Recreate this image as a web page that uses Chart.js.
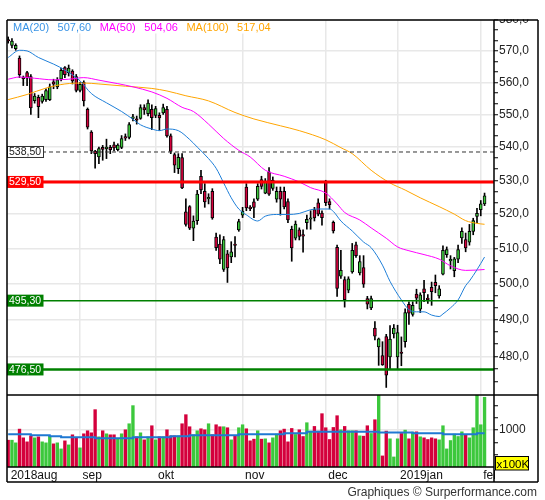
<!DOCTYPE html>
<html>
<head>
<meta charset="utf-8">
<title>Cours journalier</title>
<script src="https://cdn.jsdelivr.net/npm/chart.js@4.4.1/dist/chart.umd.min.js"></script>
<style>
    html, body { margin: 0; padding: 0; background: #ffffff; }
    #box { position: relative; width: 545px; height: 500px; }
</style>
</head>
<body>
<div id="box"><canvas id="cours"></canvas></div>
<script>
// daily candles, one per trading day (first one = 2018aug, last one = 1st feb day)
const opens = [573.4, 571.8, 570.7, 567.7, 561.6, 563.1, 561.8, 554.3, 555.3, 554.0,
    554.6, 554.6, 560.2, 558.6, 561.0, 564.7, 563.1, 563.6, 561.8, 557.5,
    560.0, 551.6, 544.6, 538.8, 537.0, 539.9, 539.5, 539.9, 540.7, 539.2,
    539.9, 543.0, 542.9, 548.8, 548.5, 548.8, 552.1, 550.2, 551.6, 549.7,
    549.7, 550.5, 551.6, 543.4, 537.7, 533.5, 536.8, 520.7, 522.2, 515.9,
    518.1, 531.2, 526.7, 524.5, 526.7, 513.3, 511.3, 504.1, 508.5, 507.6,
    511.1, 515.4, 519.7, 528.0, 521.8, 523.6, 524.4, 530.2, 526.2, 532.5,
    527.6, 524.4, 526.7, 526.7, 523.7, 515.6, 513.0, 515.4, 513.8, 517.5,
    518.5, 521.3, 523.3, 520.3, 529.5, 523.7, 517.6, 510.4, 502.2, 501.2,
    498.2, 503.4, 511.1, 503.1, 504.6, 495.9, 493.3, 487.7, 482.6, 480.2,
    485.4, 479.9, 486.1, 479.9, 481.0, 484.0, 494.3, 491.5, 497.1, 492.9,
    498.6, 495.8, 499.0, 500.4, 496.6, 502.7, 508.3, 506.5, 503.7, 507.0,
    513.1, 512.6, 511.9, 515.0, 519.3, 521.3, 523.0]
const highs = [574.5, 574.0, 572.3, 568.4, 562.0, 563.5, 562.5, 556.5, 556.0, 556.3,
    558.0, 559.5, 561.0, 561.5, 564.5, 565.0, 565.5, 564.0, 562.5, 560.0,
    560.5, 552.0, 545.0, 539.0, 540.0, 540.5, 542.4, 540.5, 541.5, 541.0,
    543.5, 544.0, 547.5, 550.0, 549.5, 553.0, 553.0, 554.5, 553.0, 552.5,
    550.5, 553.2, 552.5, 544.0, 538.2, 538.0, 538.0, 524.5, 522.5, 519.5,
    527.0, 533.0, 529.0, 526.0, 527.5, 514.5, 514.0, 513.5, 509.5, 512.0,
    513.5, 518.5, 522.0, 529.0, 522.5, 524.5, 529.0, 531.2, 530.5, 533.8,
    531.0, 528.0, 528.0, 528.0, 524.5, 516.5, 518.0, 516.0, 515.4, 519.7,
    521.0, 522.0, 524.5, 521.0, 530.0, 524.5, 518.0, 511.0, 509.5, 502.0,
    502.0, 511.5, 511.9, 508.0, 508.0, 496.5, 496.6, 489.5, 485.0, 484.0,
    486.0, 488.4, 488.7, 488.5, 485.3, 493.0, 495.0, 495.0, 498.5, 497.5,
    501.0, 497.0, 500.5, 502.5, 499.5, 510.8, 510.5, 508.0, 507.5, 511.0,
    516.0, 514.5, 517.0, 518.8, 521.7, 524.0, 526.2]
const lows = [572.5, 571.0, 570.2, 561.5, 559.0, 559.0, 550.0, 553.5, 549.0, 553.5,
    554.0, 554.3, 558.0, 558.0, 560.5, 561.5, 562.0, 559.5, 557.0, 557.0,
    552.6, 545.5, 538.0, 533.6, 535.0, 536.0, 536.5, 538.0, 538.8, 538.8,
    539.5, 542.0, 542.5, 548.0, 547.0, 548.5, 550.0, 549.5, 545.3, 549.0,
    545.1, 550.0, 543.0, 538.0, 532.3, 532.0, 527.5, 516.5, 515.5, 512.3,
    517.0, 526.0, 522.0, 523.0, 518.5, 509.5, 505.7, 503.5, 500.4, 506.0,
    507.6, 515.0, 519.0, 521.0, 521.0, 519.0, 524.0, 527.4, 526.0, 525.5,
    527.0, 523.5, 519.7, 521.5, 517.5, 506.4, 512.5, 512.5, 509.0, 515.6,
    515.6, 518.0, 519.5, 516.8, 522.5, 521.5, 514.5, 496.5, 501.5, 493.5,
    497.5, 503.0, 507.5, 502.5, 499.0, 493.0, 492.8, 484.5, 477.6, 477.6,
    471.7, 476.5, 485.0, 476.5, 477.5, 482.5, 488.7, 491.0, 494.5, 492.0,
    495.0, 494.5, 494.0, 497.5, 496.0, 502.5, 507.5, 504.2, 502.0, 506.0,
    511.5, 509.1, 511.0, 514.0, 517.5, 519.5, 522.5]
const closes = [573.2, 573.2, 571.8, 562.4, 561.2, 561.3, 552.0, 555.7, 552.4, 555.7,
    557.4, 558.6, 559.4, 560.8, 563.8, 562.4, 564.5, 560.5, 557.5, 559.4,
    554.2, 546.1, 538.8, 538.0, 539.5, 539.3, 539.7, 539.2, 539.7, 540.6,
    542.6, 542.7, 546.9, 549.2, 548.2, 552.1, 551.4, 553.5, 549.0, 551.8,
    548.9, 552.1, 543.4, 538.7, 534.5, 536.9, 527.7, 517.0, 515.9, 518.0,
    525.9, 527.1, 523.6, 524.9, 518.9, 510.3, 507.0, 512.6, 504.5, 509.1,
    510.9, 517.8, 520.9, 521.8, 521.6, 522.0, 528.2, 528.2, 529.5, 525.9,
    530.0, 526.7, 524.4, 522.1, 518.3, 510.2, 517.1, 513.5, 513.6, 518.5,
    518.7, 518.9, 520.0, 519.0, 523.4, 522.8, 515.1, 498.7, 503.8, 495.6,
    501.4, 509.5, 508.0, 506.3, 499.9, 494.3, 495.9, 485.5, 484.8, 477.7,
    475.0, 484.7, 487.7, 486.5, 480.8, 492.0, 491.8, 494.0, 496.0, 496.9,
    497.5, 495.6, 497.8, 499.5, 498.6, 509.5, 509.7, 506.7, 507.1, 509.7,
    515.0, 510.2, 515.0, 518.1, 520.2, 523.0, 525.4]
// volume in units of 100K
const volumes = [726, 726, 654, 1026, 790, 681, 844, 790, 817, 681,
    654, 835, 627, 654, 490, 708, 599, 872, 799, 518,
    899, 981, 926, 1553, 817, 981, 899, 872, 872, 772,
    899, 1008, 1171, 1662, 817, 926, 735, 817, 1117, 735,
    817, 817, 1008, 844, 844, 844, 1171, 1417, 1090, 872,
    981, 1035, 1008, 1171, 872, 1144, 1090, 1090, 1063, 735,
    844, 1063, 1144, 1035, 708,
    754, 981, 754, 763, 654, 790, 890, 981, 1026, 681,
    1044, 881, 1008, 826, 1199, 972, 1099, 972, 1444, 1063,
    745, 1071, 1389, 1008, 1099, 981, 981, 981, 844, 835,
    1117, 908, 1280, 1950, 300, 972, 763, 272, 763, 908,
    999, 763, 944, 953, 817, 790, 745, 790, 763, 735,
    1117, 490, 717, 890, 826, 953, 863, 790, 1063, 1950,
    1144, 1889]

const monthStarts = [0, 19, 39, 62, 84, 103, 125]
const monthLabels = ['2018aug', 'sep', 'okt', 'nov', 'dec', '2019jan', 'feb']

// moving averages read at some of the days
const ma20Days = [0, 3, 5, 8, 12, 15, 19, 22, 26, 30, 33, 35, 38, 40, 42, 45, 48, 50, 53, 55,
    57, 59, 61, 63, 66, 68, 71, 74, 77, 80, 82, 85, 86, 88, 91, 94, 96, 99, 101, 104,
    106, 108, 110, 112, 114, 115, 117, 119, 121, 122, 124, 126]
const ma20 = [567.9, 570.2, 570.0, 567.9, 565.8, 563.9, 560.5, 556.5, 553.6, 550.9,
    548.5, 546.8, 545.5, 545.0, 545.5, 545.0, 542.3, 540.0, 536.5, 533.6,
    529.2, 524.8, 521.5, 519.8, 518.0, 519.4, 519.9, 519.9, 520.2, 521.3,
    521.5, 521.5, 520.8, 518.0, 515.1, 511.9, 510.3, 505.3, 500.7, 495.5,
    492.8, 492.2, 492.2, 491.3, 490.9, 491.6, 493.3, 495.5, 499.5, 500.8,
    504.0, 507.60]
const ma50Days = [0, 3, 7, 12, 16, 20, 24, 29, 33, 38, 42, 46, 49, 53, 57, 61, 64, 68, 73, 77,
    80, 84, 87, 89, 93, 96, 100, 103, 106, 110, 114, 117, 121, 124, 126]
const ma50 = [561.0, 561.7, 561.3, 560.8, 561.0, 561.5, 560.7, 559.6, 558.6, 557.0,
    555.0, 552.2, 550.9, 547.0, 542.6, 539.0, 537.0, 533.0, 531.2, 529.5,
    527.8, 526.2, 523.0, 520.5, 518.3, 516.0, 513.0, 510.5, 509.4, 508.3,
    507.0, 505.1, 503.8, 503.9, 504.06]
const ma100Days = [0, 5, 10, 15, 20, 24, 31, 38, 42, 47, 53, 60, 65, 72, 77, 84, 88, 91, 96, 101,
    105, 109, 114, 118, 121, 124, 126]
const ma100 = [554.6, 556.2, 558.2, 559.5, 559.8, 559.5, 558.8, 558.1, 557.3, 555.8,
    554.2, 550.6, 548.6, 546.5, 545.0, 542.2, 539.8, 538.0, 533.0, 529.2,
    527.1, 524.8, 522.2, 520.0, 518.1, 517.3, 517.04]
const volMaDays = [0, 6, 11, 14, 23, 33, 43, 48, 61, 73, 79, 98, 107, 115, 124, 126]
const volMa = [890, 863, 835, 808, 781, 808, 835, 863, 890, 917, 953, 935, 917, 890, 917, 917]

const levels = [538.5, 529.5, 495.3, 476.5]
const priceMajor = [480, 490, 500, 510, 520, 530, 540, 550, 560, 570, 580]
const volMajor = 1000

const upColor = '#3cc83c'
const downColor = '#d4003c'
const gridColor = '#e8e8e8'
const noColor = 'rgba(0,0,0,0)'
const levelStyles = [
    {line: '#333333', width: 1, dash: [4, 3], fill: '#ffffff', text: '#222222', border: true},
    {line: '#ff0000', width: 3, dash: [], fill: '#ff0000', text: '#ffffff', border: false},
    {line: '#008000', width: 1.5, dash: [], fill: '#008000', text: '#ffffff', border: false},
    {line: '#008000', width: 2.5, dash: [], fill: '#008000', text: '#ffffff', border: false}
]
const maColors = ['#1f7fd8', '#ff00ff', '#ffa500']

Chart.defaults.font.family = "'Liberation Sans', Arial, sans-serif"
Chart.defaults.font.size = 12
Chart.defaults.color = '#222'

function decimal(v, digits) {
    return v.toFixed(digits).replace('.', ',')
}

function is_major(v, step) {
    return Math.abs(v - Math.round(v / step) * step) < 0.01
}

function candle_color(i) {
    return closes[i] >= opens[i] ? upColor : downColor
}

function as_points(xs, ys) {
    return xs.map((d, k) => ({x: d, y: ys[k]}))
}

// a tick mark every third of the labelled step
const priceTicks = []
priceMajor.forEach((m, k) => {
    if (k === 0) priceTicks.push(m - 20 / 3, m - 10 / 3)
    priceTicks.push(m)
    if (k < priceMajor.length - 1) priceTicks.push(m + 10 / 3, m + 20 / 3)
})
const volTicks = [1, 2, 3, 4, 5].map(k => k * volMajor / 3)

const days = opens.map((o, i) => i)
const bodies = days.map(i => ({x: i, y: [opens[i], closes[i]]}))
const wicks = days.map(i => ({x: i, y: [lows[i], highs[i]]}))
const vols = days.map(i => ({x: i, y: volumes[i]}))

const decor = {
    id: 'decor',
    afterDatasetsDraw(chart) {
        const c = chart.ctx
        const a = chart.chartArea
        const y = chart.scales.y
        c.save()
        levels.forEach((lv, k) => {
            const st = levelStyles[k]
            const py = y.getPixelForValue(lv)
            c.strokeStyle = st.line
            c.lineWidth = st.width
            c.setLineDash(st.dash)
            c.beginPath()
            c.moveTo(a.left, py)
            c.lineTo(a.right, py)
            c.stroke()
            c.setLineDash([])
            c.fillStyle = st.fill
            c.fillRect(a.left, py - 6, 36.5, 12)
            if (st.border) {
                c.strokeStyle = st.line
                c.lineWidth = 1
                c.strokeRect(a.left + 0.5, py - 5.5, 36, 11)
            }
            c.fillStyle = st.text
            c.font = "10.5px 'Liberation Sans'"
            c.textBaseline = 'middle'
            c.textAlign = 'left'
            c.fillText(decimal(lv, 2), a.left + 2, py + 0.5)
        })

        // MA legend on a white strip
        const items = [['MA(20)', ma20], ['MA(50)', ma50], ['MA(100)', ma100]]
        c.font = "11px 'Liberation Sans'"
        c.textBaseline = 'alphabetic'
        let x = a.left + 6
        const parts = []
        items.forEach(([name, arr], k) => {
            parts.push([name, maColors[k]])
            parts.push([decimal(arr[arr.length - 1], 2), maColors[k]])
        })
        const total = parts.reduce((s, p) => s + c.measureText(p[0]).width + 8.5, 0)
        c.fillStyle = '#ffffff'
        c.fillRect(a.left + 1, a.top + 1, total + 8, 12.5)
        parts.forEach(([txt, col]) => {
            c.fillStyle = col === '#1f7fd8' ? '#3a94e6' : col
            c.fillText(txt, x, a.top + 11)
            x += c.measureText(txt).width + 8.5
        })
        c.restore()
    },
    afterDraw(chart) {
        const c = chart.ctx
        const a = chart.chartArea
        const split = chart.scales.y.bottom
        const base = chart.scales.x.bottom
        const outer = chart.width - 7
        c.save()
        c.fillStyle = '#ffffff'
        c.fillRect(0, 0, chart.width, a.top - 0.75)
        c.fillRect(a.right + 1, a.bottom + 1, outer - a.right - 2, base - a.bottom - 2)

        c.strokeStyle = '#000'
        c.lineWidth = 1.5
        c.beginPath()
        c.moveTo(a.left, a.top); c.lineTo(outer, a.top)
        c.moveTo(a.left, a.top); c.lineTo(a.left, base)
        c.moveTo(a.right, a.top); c.lineTo(a.right, base)
        c.moveTo(outer, a.top); c.lineTo(outer, base)
        c.moveTo(a.left, split); c.lineTo(outer, split)
        c.moveTo(a.left, a.bottom); c.lineTo(a.right, a.bottom)
        c.moveTo(a.left, base); c.lineTo(outer, base)
        c.stroke()

        c.fillStyle = '#ffff00'
        c.fillRect(a.right + 1.5, a.bottom - 10.5, 33, 13.5)
        c.lineWidth = 1
        c.strokeRect(a.right + 1.5, a.bottom - 10.5, 33, 13.5)
        c.fillStyle = '#000'
        c.font = "11.5px 'Liberation Sans'"
        c.textBaseline = 'alphabetic'
        c.textAlign = 'left'
        c.fillText('x100K', a.right + 2.5, a.bottom + 1)

        c.fillStyle = '#333'
        c.font = "12px 'Liberation Sans'"
        c.textAlign = 'right'
        c.fillText('Graphiques \u00a9 Surperformance.com', outer - 1, 496)
        c.restore()
    }
}

const ctx = document.getElementById('cours').getContext('2d')
const myChart = new Chart(ctx, {
    type: 'bar',
    data: {
        datasets: [
            {type: 'line', label: 'MA(20)', data: as_points(ma20Days, ma20), yAxisID: 'y',
                borderColor: maColors[0], borderWidth: 1, pointRadius: 0, cubicInterpolationMode: 'monotone', order: 0},
            {type: 'line', label: 'MA(50)', data: as_points(ma50Days, ma50), yAxisID: 'y',
                borderColor: maColors[1], borderWidth: 1, pointRadius: 0, cubicInterpolationMode: 'monotone', order: 0},
            {type: 'line', label: 'MA(100)', data: as_points(ma100Days, ma100), yAxisID: 'y',
                borderColor: maColors[2], borderWidth: 1, pointRadius: 0, cubicInterpolationMode: 'monotone', order: 0},
            {label: 'corps', data: bodies, yAxisID: 'y', backgroundColor: days.map(candle_color),
                borderColor: '#000', borderWidth: 1, borderSkipped: false, barThickness: 3,
                minBarLength: 1.5, grouped: false, order: 1},
            {label: 'meches', data: wicks, yAxisID: 'y', backgroundColor: '#000',
                barThickness: 1, grouped: false, order: 2},
            {type: 'line', label: 'MM volume', data: as_points(volMaDays, volMa), yAxisID: 'yv',
                borderColor: '#1f78d2', borderWidth: 2, pointRadius: 0, stepped: true, order: 0},
            {label: 'Volume', data: vols, yAxisID: 'yv', backgroundColor: days.map(candle_color),
                barThickness: 2.7, grouped: false, order: 3}
        ]
    },
    options: {
        responsive: true,
        maintainAspectRatio: false,
        animation: false,
        events: [],
        layout: {padding: {left: 7, top: 20, right: 0, bottom: 18}},
        plugins: {legend: {display: false}, tooltip: {enabled: false}},
        scales: {
            x: {
                type: 'linear', min: -0.31, max: 128.5, bounds: 'data', offset: false,
                afterBuildTicks: s => { s.ticks = monthStarts.map(v => ({value: v})) },
                afterFit: s => { s.height = 15 },
                grid: {offset: false, color: g => g.index === 0 ? noColor : gridColor, lineWidth: 1.5, drawTicks: false},
                border: {display: false},
                ticks: {autoSkip: false, maxRotation: 0, align: 'start', labelOffset: 2.5, padding: 1,
                    color: '#111', font: {size: 12}, callback: (v, k) => monthLabels[k]}
            },
            y: {
                type: 'logarithmic', position: 'right', stack: 'panels', stackWeight: 375,
                min: 469.7, max: 580, bounds: 'data',
                afterBuildTicks: s => { s.ticks = priceTicks.map(v => ({value: v})) },
                afterFit: s => { s.width = 51 },
                grid: {color: g => is_major(g.tick.value, 10) ? gridColor : noColor, lineWidth: 1.5,
                    tickColor: '#000', tickLength: 4, tickWidth: 1},
                border: {display: false},
                ticks: {autoSkip: false, padding: 1, color: '#222',
                    callback: v => is_major(v, 10) ? decimal(v, 1) : ''}
            },
            yv: {
                type: 'linear', position: 'right', stack: 'panels', stackWeight: 72,
                min: 0, max: 1950, bounds: 'data',
                afterBuildTicks: s => { s.ticks = volTicks.map(v => ({value: v})) },
                afterFit: s => { s.width = 51 },
                grid: {color: g => is_major(g.tick.value, volMajor) ? gridColor : noColor, lineWidth: 1.5,
                    tickColor: '#000', tickLength: 4, tickWidth: 1},
                border: {display: false},
                ticks: {autoSkip: false, padding: 1, color: '#222',
                    callback: v => is_major(v, volMajor) ? String(Math.round(v)) : ''}
            }
        }
    },
    plugins: [decor]
})
</script>
</body>
</html>
